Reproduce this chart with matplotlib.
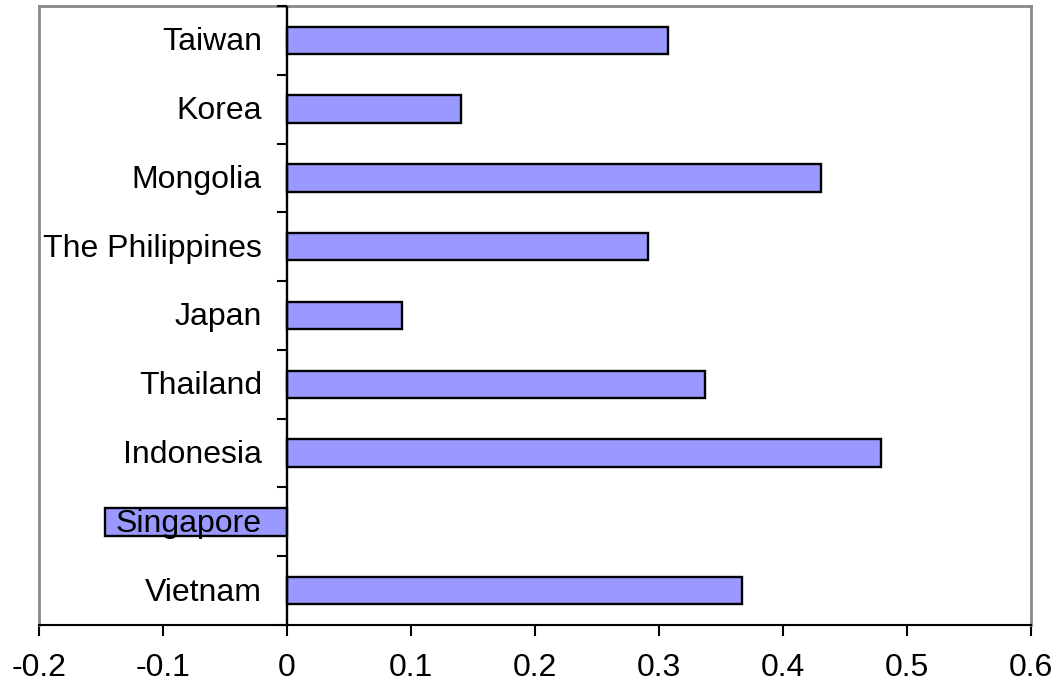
import matplotlib
matplotlib.use("Agg")
import matplotlib.pyplot as plt
import matplotlib.transforms as mtransforms
import numpy as np

plt.rcParams['font.family'] = ['Liberation Sans', 'DejaVu Sans']

COUNTRIES = ["Vietnam", "Singapore", "Indonesia", "Thailand", "Japan",
             "The Philippines", "Mongolia", "Korea", "Taiwan"]
VALUES = [0.367, -0.147, 0.479, 0.337, 0.093, 0.291, 0.431, 0.140, 0.307]
XTICKS = [-0.2, -0.1, 0, 0.1, 0.2, 0.3, 0.4, 0.5, 0.6]

fig = plt.figure(figsize=(10.58, 6.82), dpi=100)
ax = fig.add_axes([39 / 1058, 1 - 625 / 682, (1031 - 39) / 1058, (625 - 6) / 682])

y = np.arange(len(COUNTRIES))
ax.barh(y, VALUES, height=0.4, color='#9999ff', edgecolor='black', linewidth=1.7, zorder=2)

ax.set_xlim(-0.2, 0.6)
ax.set_ylim(-0.5, len(COUNTRIES) - 0.5)

# category axis at x = 0
ax.axvline(0, color='black', linewidth=1.7, zorder=3)
bounds = np.arange(len(COUNTRIES) + 1) - 0.5
ax.plot([0] * len(bounds), bounds, linestyle='none', marker=0, markersize=7,
        markeredgewidth=1.5, color='black', zorder=3, clip_on=False)

trans = mtransforms.offset_copy(ax.transData, fig=fig, x=-25, y=-2, units='dots')
for yi, name in zip(y, COUNTRIES):
    ax.text(0, yi, name, transform=trans, ha='right', va='center', fontsize=23, zorder=4)

ax.set_yticks([])
ax.set_xticks(XTICKS)
ax.set_xticklabels([f"{t:g}" for t in XTICKS], fontsize=23)
ax.tick_params(axis='x', direction='out', length=8, width=1.5, pad=12)

for side in ['top', 'right', 'left']:
    ax.spines[side].set_color('#888888')
    ax.spines[side].set_linewidth(2)
ax.spines['bottom'].set_color('black')
ax.spines['bottom'].set_linewidth(1.5)

fig.savefig("out.png", dpi=100)
